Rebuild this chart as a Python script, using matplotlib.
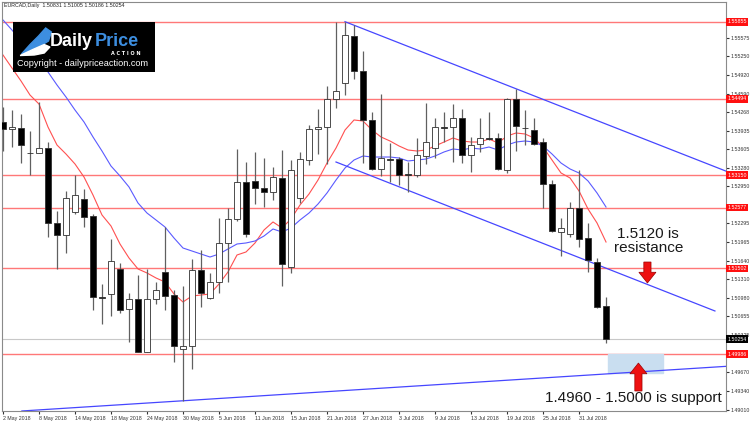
import numpy as np
import matplotlib.pyplot as plt
from matplotlib.patches import Rectangle, FancyArrow, Polygon

symbol_title = "EURCAD,Daily  1.50831 1.51005 1.50186 1.50254"

# daily candles, 2 May 2018 .. 3 Aug 2018
opens = [1.54093, 1.53964, 1.53987, 1.53544, 1.53545, 1.53623, 1.52309, 1.52092, 1.52493, 1.52728,
         1.52427, 1.51002, 1.51045, 1.51486, 1.50780, 1.50967, 1.50031, 1.50956, 1.51439, 1.51027,
         1.50084, 1.50137, 1.51474, 1.50974, 1.51257, 1.51945, 1.52369, 1.53028, 1.53046, 1.52922,
         1.52857, 1.53099, 1.51522, 1.52740, 1.53408, 1.53964, 1.53994, 1.54488, 1.54771, 1.55612,
         1.54993, 1.54123, 1.53252, 1.53429, 1.53434, 1.53169, 1.53152, 1.53492, 1.53623, 1.53994,
         1.53994, 1.54153, 1.53505, 1.53699, 1.53805, 1.53800, 1.53240, 1.54494, 1.53982, 1.53946,
         1.53729, 1.52993, 1.52150, 1.52110, 1.52574, 1.52034, 1.51610, 1.50831]
highs = [1.54358, 1.54299, 1.54224, 1.53929, 1.54435, 1.53740, 1.52516, 1.52869, 1.53152, 1.52904,
         1.52463, 1.51227, 1.52016, 1.51592, 1.51073, 1.51380, 1.51486, 1.51267, 1.52239, 1.51121,
         1.51191, 1.51663, 1.51827, 1.51416, 1.52397, 1.52563, 1.53611, 1.53376, 1.53552, 1.53446,
         1.53298, 1.53593, 1.53416, 1.53563, 1.54035, 1.54312, 1.54723, 1.55859, 1.55859, 1.55801,
         1.55347, 1.54269, 1.54577, 1.53711, 1.53475, 1.53386, 1.53810, 1.54418, 1.54163, 1.54269,
         1.54400, 1.54312, 1.53828, 1.54153, 1.54259, 1.53899, 1.54506, 1.54665, 1.54299, 1.54153,
         1.53800, 1.53063, 1.52387, 1.52680, 1.53240, 1.52299, 1.51680, 1.51005]
lows = [1.53581, 1.53651, 1.53358, 1.53152, 1.53535, 1.52062, 1.51486, 1.51769, 1.52463, 1.52228,
        1.50767, 1.50520, 1.50661, 1.50709, 1.50208, 1.50020, 1.50026, 1.50868, 1.50767, 1.49854,
        1.49166, 1.49720, 1.50826, 1.50962, 1.51062, 1.51257, 1.52344, 1.52051, 1.52634, 1.52581,
        1.52710, 1.51191, 1.51416, 1.52652, 1.53328, 1.53522, 1.53346, 1.54329, 1.54564, 1.54847,
        1.53358, 1.53240, 1.53139, 1.53023, 1.52975, 1.52857, 1.53122, 1.53341, 1.53457, 1.53740,
        1.53386, 1.53363, 1.53210, 1.53563, 1.53770, 1.53240, 1.53192, 1.53581, 1.53681, 1.53681,
        1.52574, 1.52140, 1.51721, 1.52062, 1.51885, 1.51444, 1.50797, 1.50186]
closes = [1.53959, 1.54005, 1.53681, 1.53535, 1.53623, 1.52299, 1.52092, 1.52751, 1.52798, 1.52415,
          1.50992, 1.50988, 1.51627, 1.50767, 1.50956, 1.50031, 1.50956, 1.51121, 1.51020, 1.50137,
          1.50132, 1.51474, 1.51062, 1.51257, 1.51956, 1.52369, 1.53023, 1.52110, 1.52917, 1.52857,
          1.53111, 1.51580, 1.53240, 1.53434, 1.53964, 1.54005, 1.54494, 1.54640, 1.55624, 1.54993,
          1.54118, 1.53252, 1.53457, 1.53416, 1.53152, 1.53160, 1.53505, 1.53740, 1.53994, 1.53987,
          1.54153, 1.53496, 1.53681, 1.53810, 1.53796, 1.53252, 1.54494, 1.54017, 1.53973, 1.53699,
          1.52993, 1.52168, 1.52221, 1.52574, 1.52021, 1.51650, 1.50826, 1.50254]

# moving averages as drawn on the chart
ma_fast = [1.55271, 1.55041, 1.54812, 1.54564, 1.54405, 1.53999, 1.53681, 1.53522, 1.53346, 1.53116,
           1.52798, 1.52445, 1.52251, 1.51933, 1.51686, 1.51492, 1.51421, 1.51333, 1.51262, 1.51050,
           1.50909, 1.51015, 1.51032, 1.51050, 1.51227, 1.51439, 1.51739, 1.51792, 1.51951, 1.52180,
           1.52322, 1.52216, 1.52375, 1.52622, 1.52816, 1.53063, 1.53363, 1.53628, 1.53946, 1.54123,
           1.54105, 1.53946, 1.53823, 1.53752, 1.53664, 1.53593, 1.53575, 1.53593, 1.53664, 1.53734,
           1.53805, 1.53752, 1.53734, 1.53734, 1.53787, 1.53717, 1.53840, 1.53893, 1.53876, 1.53805,
           1.53646, 1.53416, 1.53187, 1.53099, 1.52869, 1.52551, 1.52304, 1.51968]
ma_slow = [1.55889, 1.55712, 1.55518, 1.55341, 1.55147, 1.54971, 1.54741, 1.54529, 1.54299, 1.54088,
           1.53823, 1.53575, 1.53310, 1.53134, 1.52940, 1.52657, 1.52480, 1.52357, 1.52233, 1.52039,
           1.51862, 1.51809, 1.51756, 1.51703, 1.51756, 1.51845, 1.51933, 1.51951, 1.51986, 1.52074,
           1.52198, 1.52145, 1.52216, 1.52357, 1.52480, 1.52639, 1.52834, 1.53063, 1.53275, 1.53416,
           1.53487, 1.53469, 1.53469, 1.53469, 1.53452, 1.53399, 1.53416, 1.53434, 1.53487, 1.53558,
           1.53611, 1.53593, 1.53628, 1.53611, 1.53646, 1.53593, 1.53681, 1.53734, 1.53752, 1.53734,
           1.53664, 1.53522, 1.53363, 1.53258, 1.53187, 1.53046, 1.52834, 1.52586]

date_bars = [0, 4, 8, 12, 16, 20, 24, 28, 32, 36, 40, 44, 48, 52, 56, 60, 64]
date_labels = ["2 May 2018", "8 May 2018", "14 May 2018", "18 May 2018", "24 May 2018",
               "30 May 2018", "5 Jun 2018", "11 Jun 2018", "15 Jun 2018", "21 Jun 2018",
               "27 Jun 2018", "3 Jul 2018", "9 Jul 2018", "13 Jul 2018", "19 Jul 2018",
               "25 Jul 2018", "31 Jul 2018"]

price_ticks = [1.55575, 1.55250, 1.54920, 1.54590, 1.54268, 1.53935, 1.53605, 1.53280, 1.52950,
               1.52295, 1.51965, 1.51640, 1.51310, 1.50980, 1.50655, 1.50325, 1.49670, 1.49340,
               1.49010]
levels = [1.55855, 1.54494, 1.53150, 1.52577, 1.51502, 1.49986]
last_price = 1.50254

channel_top = [(38, 1.55859), (80.3, 1.53222)]
channel_bottom = [(37, 1.53381), (79.1, 1.50750)]
support_line = [(2.1, 1.48984), (80.3, 1.49772)]
support_zone = (67.2, 73.3, 1.4966, 1.4999)

small = dict(family="Liberation Sans", fontsize=3.8)

fig = plt.figure(figsize=(7.5, 4.23), dpi=100)
ax = fig.add_axes([2 / 750, 12.3 / 423, 724 / 750, 409 / 423])
ax.set_xlim(-0.11, 80.33)
ax.set_ylim(1.48989, 1.56212)

x = np.arange(len(opens))
o = np.array(opens); c = np.array(closes)

for lv in levels:
    ax.axhline(lv, color="#ff7878", lw=1.0, zorder=1)
ax.axhline(last_price, color="#c8c8c8", lw=0.8, zorder=1)

ax.add_patch(Rectangle((support_zone[0], support_zone[2]), support_zone[1] - support_zone[0],
                       support_zone[3] - support_zone[2], color="#c9def0", zorder=1))

ax.plot(x, ma_fast, color="#ff5050", lw=0.8, zorder=2)
ax.plot(x, ma_slow, color="#5a5aff", lw=0.8, zorder=2)

for line in (channel_top, channel_bottom, support_line):
    (x0, y0), (x1, y1) = line
    ax.plot([x0, x1], [y0, y1], color="#4646ff", lw=0.9, zorder=2)

ax.vlines(x, lows, highs, color="#606060", lw=0.9, zorder=3)
bull = c >= o
body_h = np.maximum(np.abs(c - o), 0.00003)
ax.bar(x, body_h, bottom=np.minimum(o, c), width=0.62,
       color=np.where(bull, "white", "black"), edgecolor="#303030", linewidth=0.6, zorder=4)

# annotations
ax.add_patch(FancyArrow(71.6, 1.51615, 0, -0.00371, width=0.8, head_width=1.9,
                        head_length=0.0019, length_includes_head=True,
                        fc="#ee1111", ec="#990000", lw=0.5, zorder=5))
ax.add_patch(FancyArrow(70.6, 1.49337, 0, 0.00494, width=0.8, head_width=1.9,
                        head_length=0.0019, length_includes_head=True,
                        fc="#ee1111", ec="#990000", lw=0.5, zorder=5))
ax.text(71.7, 1.51986, "1.5120 is\nresistance", ha="center", va="center", fontsize=11,
        family="Liberation Sans", color="#1a1a1a", linespacing=1.05, zorder=6)
ax.text(70.06, 1.49213, "1.4960 - 1.5000 is support", ha="center", va="center", fontsize=11,
        family="Liberation Sans", color="#1a1a1a", zorder=6)

# axes styling
for s in ax.spines.values():
    s.set_color("#8a8a8a")
    s.set_linewidth(0.8)
ax.yaxis.tick_right()
ax.set_yticks(price_ticks)
ax.set_yticklabels([f"{p:.5f}" for p in price_ticks], **small)
ax.tick_params(axis="y", length=2, pad=1, colors="#333333")
ax.set_xticks(date_bars)
ax.set_xticklabels(date_labels, **small)
ax.tick_params(axis="x", length=2, pad=1.5, colors="#333333")
for lab in ax.get_xticklabels():
    lab.set_ha("left")

for lv in levels:
    ax.annotate(f"{lv:.5f}", xy=(1, lv), xycoords=("axes fraction", "data"), xytext=(1.2, 0),
                textcoords="offset points", va="center", ha="left", color="white",
                bbox=dict(boxstyle="square,pad=0.25", fc="#ff1010", ec="none"), **small)
ax.annotate(f"{last_price:.5f}", xy=(1, last_price), xycoords=("axes fraction", "data"),
            xytext=(1.2, 0), textcoords="offset points", va="center", ha="left",
            color="white", bbox=dict(boxstyle="square,pad=0.25", fc="black", ec="none"), **small)

fig.text(4 / 750, 1 - 6 / 423, symbol_title, va="center", color="#222222", **small)

# logo block
lg = fig.add_axes([13 / 750, 1 - 72 / 423, 142 / 750, 50 / 423])
lg.set_facecolor("black")
lg.set_xlim(0, 1); lg.set_ylim(0, 1)
lg.set_xticks([]); lg.set_yticks([])
for s in lg.spines.values():
    s.set_visible(False)
lg.add_patch(Polygon([(0.06, 0.36), (0.12, 0.55), (0.18, 0.72), (0.23, 0.88), (0.27, 0.80),
                      (0.25, 0.62), (0.17, 0.48), (0.11, 0.38)], color="#3d8ee0"))
lg.add_patch(Polygon([(0.05, 0.33), (0.14, 0.45), (0.22, 0.55), (0.26, 0.50), (0.22, 0.38),
                      (0.15, 0.34)], color="white"))
lg.text(0.26, 0.62, "Daily", fontsize=13, fontweight="bold", color="white",
        family="Liberation Sans", va="center", ha="left")
lg.text(0.575, 0.62, "Price", fontsize=13, fontweight="bold", color="#3d8ee0",
        family="Liberation Sans", va="center", ha="left")
lg.text(0.90, 0.37, "A C T I O N", fontsize=3.5, color="white", fontweight="bold",
        va="center", ha="right")
lg.text(0.49, 0.16, "Copyright - dailypriceaction.com", fontsize=6.6, color="white",
        family="Liberation Sans", va="center", ha="center")

fig.savefig("out.png", dpi=100)
